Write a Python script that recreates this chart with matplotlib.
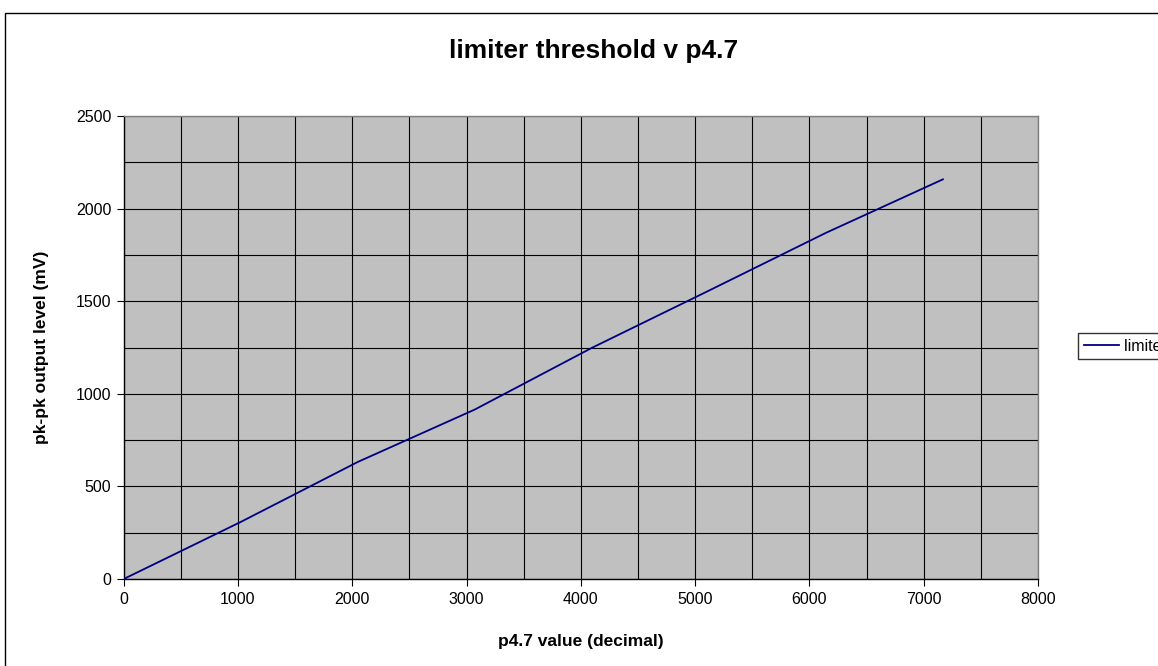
import matplotlib
matplotlib.use("Agg")
import matplotlib.pyplot as plt
from matplotlib.patches import Rectangle
from matplotlib.ticker import MultipleLocator

plt.rcParams['font.family'] = ['Liberation Sans', 'DejaVu Sans']

# data
p47_value = [0, 1024, 2048, 3072, 4096, 5120, 6144, 7168]
pkpk_mv = [0, 308, 632, 915, 1248, 1557, 1869, 2158]
series_name = "limiter threshold"
title = "limiter threshold v p4.7"
xlabel = "p4.7 value (decimal)"
ylabel = "pk-pk output level (mV)"

W, H = 1158, 666
fig = plt.figure(figsize=(W / 100, H / 100), dpi=100)
fig.patch.set_facecolor('white')

# outer chart border
fig.patches.append(Rectangle((4.5 / W, -0.1), 1.2, (H - 12.5) / H + 0.1,
                             transform=fig.transFigure, fill=False,
                             edgecolor='black', linewidth=1.0))

ax = fig.add_axes([123.7 / W, (H - 579) / H, (1038 - 123.7) / W, (579 - 116) / H])
ax.set_facecolor('#C0C0C0')
ax.plot(p47_value, pkpk_mv, color='#000080', linewidth=1.3, label=series_name,
        solid_joinstyle='miter', zorder=3)

ax.set_xlim(0, 8000)
ax.set_ylim(0, 2500)
ax.xaxis.set_major_locator(MultipleLocator(1000))
ax.xaxis.set_minor_locator(MultipleLocator(500))
ax.yaxis.set_major_locator(MultipleLocator(500))
ax.yaxis.set_minor_locator(MultipleLocator(250))
ax.grid(which='both', color='black', linewidth=0.8)
ax.set_axisbelow(True)

ax.tick_params(axis='both', which='major', direction='out', length=5, width=0.8,
               labelsize=11.5, colors='black', pad=4)
ax.tick_params(axis='both', which='minor', length=0)

for s in ['top', 'right']:
    ax.spines[s].set_color('#808080')
for s in ['left', 'bottom']:
    ax.spines[s].set_color('black')
for s in ax.spines.values():
    s.set_linewidth(1.0)

ax.set_xlabel(xlabel, fontsize=12.5, fontweight='bold', labelpad=20)
ax.set_ylabel(ylabel, fontsize=12.5, fontweight='bold', labelpad=19)
fig.text(594 / W, (H - 51) / H, title, ha='center', va='center',
         fontsize=19, fontweight='bold')

leg = ax.legend(loc='upper left', bbox_to_anchor=(1078 / W, (H - 333) / H),
                bbox_transform=fig.transFigure, frameon=True, fancybox=False,
                edgecolor='black', fontsize=11.5, handlelength=2.2,
                handletextpad=0.3, borderpad=0.35, borderaxespad=0)
leg.get_frame().set_linewidth(1.0)
leg.get_frame().set_facecolor('white')

fig.savefig('out.png', dpi=100)
